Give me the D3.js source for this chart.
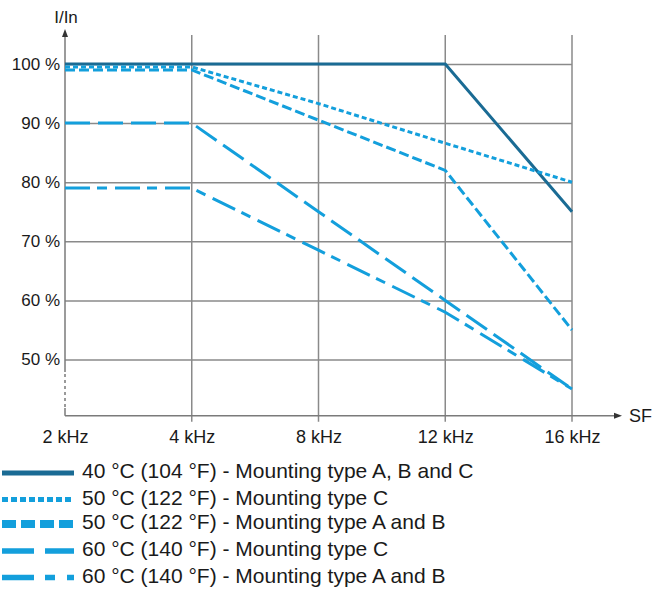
<!DOCTYPE html>
<html><head><meta charset="utf-8">
<script src="https://cdn.jsdelivr.net/npm/d3@7/dist/d3.min.js"></script>
<style>
body{margin:0;background:#fff;}
text{font-family:"Liberation Sans",Arial,sans-serif;fill:#1a1a1a;}
</style></head>
<body><svg id="c" width="652" height="590"></svg>
<script>
// ---- data ----
const freqs = [2, 4, 8, 12, 16];
const freqLabels = ["2 kHz", "4 kHz", "8 kHz", "12 kHz", "16 kHz"];
const yTicks = [50, 60, 70, 80, 90, 100];
const s40 = [100, 100, 100, 100, 75];
const s50C = [99.5, 99.5, 93.3, 86.6, 80];
const s50AB = [99, 99, 90.5, 82, 55];
const s60C = [90, 90, 75, 60, 45];
const s60AB = [79, 79, 68.5, 58, 45];
const seriesNames = [
  "40 °C (104 °F) - Mounting type A, B and C",
  "50 °C (122 °F) - Mounting type C",
  "50 °C (122 °F) - Mounting type A and B",
  "60 °C (140 °F) - Mounting type C",
  "60 °C (140 °F) - Mounting type A and B"
];

const dark = "#1a6b94", light = "#139fdc", grid = "#8a8a8a";
const series = [
  {v: s40, color: dark, dash: null, w: 3, ldash: null, lw: 5},
  {v: s50C, color: light, dash: "5,3", w: 3, ldash: "6,3", lw: 5},
  {v: s50AB, color: light, dash: "10,4", w: 3, ldash: "14,5", lw: 8},
  {v: s60C, color: light, dash: "25,8", w: 3, ldash: "32,11", lw: 5.5},
  {v: s60AB, color: light, dash: "25,7,10,8", w: 3, ldash: "32,11,10,12", lw: 5.5}
];

const svg = d3.select("#c");
const x = d3.scalePoint().domain(freqs).range([65, 572]);
const y = d3.scaleLinear().domain([50, 100]).range([359.5, 64]);
const yBase = y(40.5);

// horizontal grid + y labels
const ya = d3.axisLeft(y).tickValues(yTicks).tickFormat(d => d + " %")
  .tickSize(-(x(16) - x(2))).tickPadding(5);
const gy = svg.append("g").attr("transform", `translate(${x(2)},0)`).call(ya);
gy.select(".domain").remove();
gy.selectAll("line").attr("stroke", grid).attr("stroke-width", 1.5);
gy.selectAll("text").attr("font-size", 17).attr("fill", "#1a1a1a")
  .style("font-family", "'Liberation Sans',Arial,sans-serif");

// vertical grid
svg.append("g").selectAll("line").data(freqs.slice(1)).join("line")
  .attr("x1", d => x(d)).attr("x2", d => x(d))
  .attr("y1", 35).attr("y2", yBase + 6)
  .attr("stroke", grid).attr("stroke-width", 1.5);

// x labels
const xa = d3.axisBottom(x).tickSize(0).tickPadding(15).tickFormat((d, i) => freqLabels[i]);
const gx = svg.append("g").attr("transform", `translate(0,${yBase})`).call(xa);
gx.select(".domain").remove();
gx.selectAll("text").attr("font-size", 18).attr("fill", "#1a1a1a")
  .style("font-family", "'Liberation Sans',Arial,sans-serif");

// axes lines
const ax = svg.append("g").attr("stroke", "#7a7a7a").attr("stroke-width", 1.5);
ax.append("line").attr("x1", x(2)).attr("x2", x(2)).attr("y1", 36).attr("y2", 372);
ax.append("line").attr("x1", x(2)).attr("x2", x(2)).attr("y1", 374).attr("y2", 408).attr("stroke-dasharray", "3,3");
ax.append("line").attr("x1", x(2)).attr("x2", x(2)).attr("y1", 408).attr("y2", yBase);
ax.append("line").attr("x1", x(2)).attr("x2", 615).attr("y1", yBase).attr("y2", yBase);
svg.append("path").attr("d", `M${x(2)},29 L${x(2) - 3},37 L${x(2) + 3},37 Z`).attr("fill", "#333");
svg.append("path").attr("d", `M622,${yBase} L614,${yBase - 3} L614,${yBase + 3} Z`).attr("fill", "#333");
svg.append("text").attr("x", x(2) + 1).attr("y", 23).attr("text-anchor", "middle").attr("font-size", 17).text("I/In");
svg.append("text").attr("x", 629).attr("y", yBase + 6).attr("font-size", 18).text("SF");

// series lines
const line = d3.line().x((d, i) => x(freqs[i])).y(d => y(d));
series.forEach(s => {
  svg.append("path").datum(s.v).attr("d", line)
    .attr("fill", "none").attr("stroke", s.color).attr("stroke-width", s.w)
    .attr("stroke-dasharray", s.dash);
});

// legend
const legY = [473, 499.5, 524, 551, 577.5];
const lg = svg.append("g");
series.forEach((s, i) => {
  lg.append("line").attr("x1", 2).attr("x2", 74).attr("y1", legY[i]).attr("y2", legY[i])
    .attr("stroke", s.color).attr("stroke-width", s.lw).attr("stroke-dasharray", s.ldash);
  lg.append("text").attr("x", 82).attr("y", legY[i] + 5).attr("font-size", 21).text(seriesNames[i]);
});
</script></body></html>
